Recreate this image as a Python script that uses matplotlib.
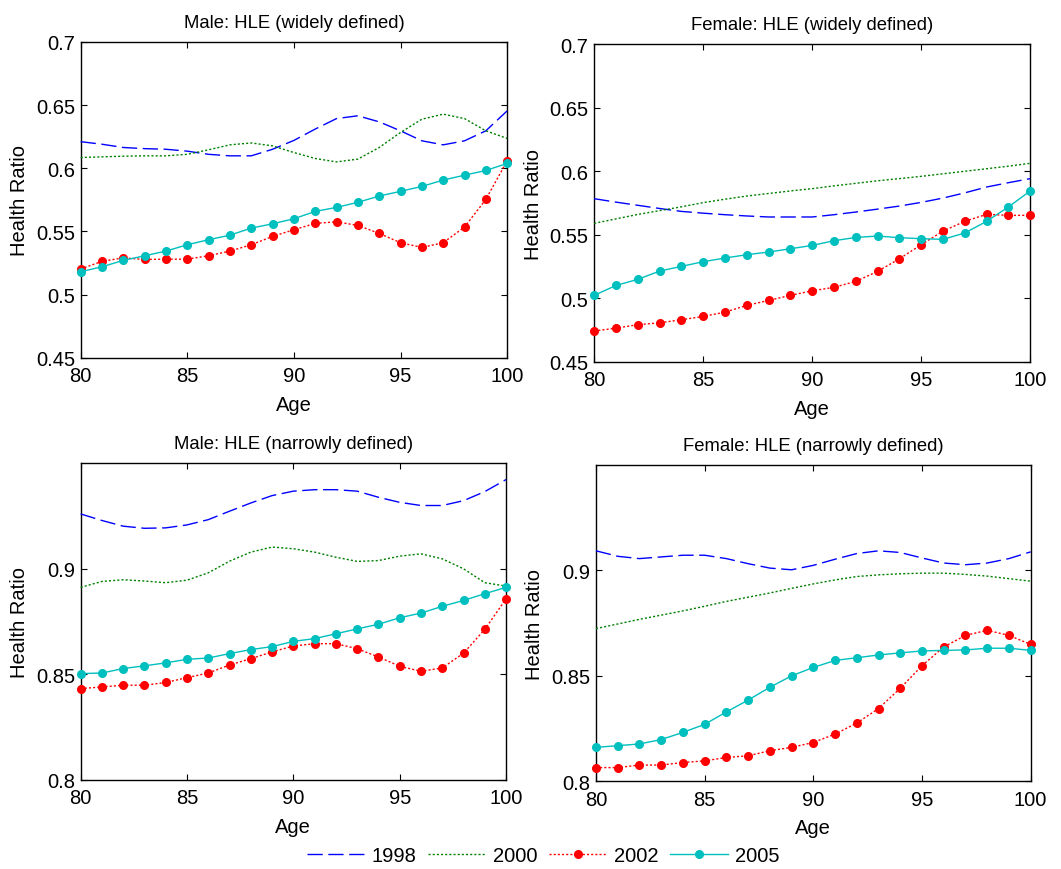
import matplotlib
matplotlib.use('Agg')
import matplotlib.pyplot as plt

plt.rcParams['font.family'] = ['Liberation Sans', 'DejaVu Sans']

# ages 80..100
ages = list(range(80, 101))
years = ['1998', '2000', '2002', '2005']

# Male, widely defined
male_wide_1998 = [0.621, 0.619, 0.6164, 0.6155, 0.615, 0.6135, 0.611, 0.6098, 0.6098, 0.615, 0.622,
                  0.631, 0.6393, 0.6415, 0.6367, 0.6296, 0.6217, 0.6185, 0.6217, 0.6296, 0.6454]
male_wide_2000 = [0.6085, 0.609, 0.6095, 0.6098, 0.6098, 0.611, 0.6146, 0.6185, 0.620, 0.6177, 0.6124,
                  0.6077, 0.605, 0.6072, 0.6164, 0.6283, 0.6388, 0.6428, 0.6393, 0.6296, 0.6236]
male_wide_2002 = [0.5202, 0.5263, 0.529, 0.5278, 0.528, 0.528, 0.5307, 0.5344, 0.5394, 0.546, 0.5513,
                  0.5563, 0.5576, 0.5547, 0.5484, 0.541, 0.5373, 0.541, 0.5534, 0.5753, 0.6059]
male_wide_2005 = [0.518, 0.522, 0.527, 0.5307, 0.5344, 0.5394, 0.5434, 0.547, 0.5526, 0.556, 0.5600,
                  0.5658, 0.569, 0.573, 0.578, 0.5817, 0.5856, 0.5906, 0.5945, 0.5982, 0.6038]

# Female, widely defined
female_wide_1998 = [0.5784, 0.5757, 0.5732, 0.5707, 0.5684, 0.567, 0.5658, 0.5648, 0.564, 0.564, 0.564,
                    0.5658, 0.5679, 0.5702, 0.5726, 0.5755, 0.5789, 0.583, 0.5876, 0.591, 0.5942]
female_wide_2000 = [0.559, 0.5625, 0.566, 0.569, 0.572, 0.5753, 0.578, 0.5805, 0.5825, 0.5845, 0.5863,
                    0.5885, 0.5905, 0.5925, 0.5942, 0.596, 0.598, 0.600, 0.602, 0.604, 0.6063]
female_wide_2002 = [0.4742, 0.4765, 0.4792, 0.4807, 0.4831, 0.4857, 0.4891, 0.4944, 0.4983, 0.5023, 0.5059,
                    0.5086, 0.5133, 0.5212, 0.5311, 0.5422, 0.5529, 0.5606, 0.5661, 0.5653, 0.5653]
female_wide_2005 = [0.5023, 0.5101, 0.5149, 0.5214, 0.5251, 0.5288, 0.5317, 0.5343, 0.5364, 0.539, 0.5416,
                    0.5453, 0.5479, 0.549, 0.5477, 0.5469, 0.5464, 0.5514, 0.5606, 0.5719, 0.5845]

# Male, narrowly defined
male_narrow_1998 = [0.926, 0.9229, 0.9202, 0.9192, 0.9194, 0.9208, 0.9233, 0.9273, 0.9312, 0.9347, 0.9368,
                    0.9375, 0.9375, 0.9368, 0.9339, 0.9315, 0.930, 0.930, 0.9323, 0.9366, 0.9423]
male_narrow_2000 = [0.8912, 0.894, 0.8948, 0.8942, 0.8934, 0.8946, 0.8981, 0.9036, 0.9079, 0.9103, 0.9095,
                    0.9079, 0.9055, 0.9035, 0.9039, 0.906, 0.9071, 0.9047, 0.900, 0.8934, 0.8918]
male_narrow_2002 = [0.8432, 0.844, 0.8448, 0.8448, 0.8461, 0.8484, 0.8506, 0.8544, 0.8574, 0.8606, 0.8634,
                    0.8645, 0.8645, 0.8621, 0.8582, 0.8538, 0.8514, 0.853, 0.860, 0.8713, 0.8858]
male_narrow_2005 = [0.8503, 0.8506, 0.8527, 0.854, 0.8554, 0.8571, 0.8577, 0.8598, 0.8617, 0.8631, 0.8656,
                    0.8669, 0.8692, 0.8715, 0.8737, 0.8768, 0.879, 0.8822, 0.885, 0.8882, 0.8912]

# Female, narrowly defined
female_narrow_1998 = [0.9093, 0.9067, 0.9056, 0.9064, 0.9072, 0.9072, 0.9056, 0.9032, 0.9011, 0.9003, 0.9024,
                      0.9053, 0.908, 0.9093, 0.9085, 0.9059, 0.9035, 0.9027, 0.9035, 0.9056, 0.9088]
female_narrow_2000 = [0.8724, 0.8746, 0.8768, 0.8788, 0.8808, 0.883, 0.8853, 0.8873, 0.8893, 0.8915, 0.8936,
                      0.8955, 0.8971, 0.8979, 0.8984, 0.8987, 0.8987, 0.8981, 0.8973, 0.8961, 0.8949]
female_narrow_2002 = [0.8065, 0.8065, 0.8077, 0.8077, 0.8089, 0.8097, 0.8113, 0.8121, 0.8145, 0.8161, 0.8184,
                      0.8224, 0.8276, 0.8345, 0.8441, 0.8548, 0.8637, 0.8692, 0.8716, 0.8692, 0.8649]
female_narrow_2005 = [0.8161, 0.8169, 0.8177, 0.8198, 0.8232, 0.827, 0.8329, 0.8385, 0.8446, 0.850, 0.854,
                      0.8573, 0.8586, 0.8599, 0.8609, 0.8618, 0.8621, 0.8623, 0.8631, 0.8631, 0.8621]

titles = ['Male: HLE (widely defined)', 'Female: HLE (widely defined)',
          'Male: HLE (narrowly defined)', 'Female: HLE (narrowly defined)']

panels = [
    [male_wide_1998, male_wide_2000, male_wide_2002, male_wide_2005],
    [female_wide_1998, female_wide_2000, female_wide_2002, female_wide_2005],
    [male_narrow_1998, male_narrow_2000, male_narrow_2002, male_narrow_2005],
    [female_narrow_1998, female_narrow_2000, female_narrow_2002, female_narrow_2005],
]

positions = [
    [0.076, 0.5877, 0.402, 0.363],
    [0.560, 0.583, 0.411, 0.365],
    [0.076, 0.1026, 0.401, 0.3637],
    [0.5617, 0.1008, 0.4097, 0.3636],
]

ylims = [(0.45, 0.7), (0.45, 0.7), (0.8, 0.95), (0.8, 0.95)]
yticks = [[0.45, 0.5, 0.55, 0.6, 0.65, 0.7], [0.45, 0.5, 0.55, 0.6, 0.65, 0.7],
          [0.8, 0.85, 0.9], [0.8, 0.85, 0.9]]

styles = [
    dict(color='#0000FF', linestyle=(0, (11, 4)), linewidth=1.0),
    dict(color='#008000', linestyle=(0, (1.5, 1.5)), linewidth=1.0),
    dict(color='#FF0000', linestyle=(0, (1.5, 1.5)), linewidth=1.0, marker='o', markersize=5.5),
    dict(color='#00BFBF', linestyle='-', linewidth=1.0, marker='o', markersize=5.5),
]

fig = plt.figure(figsize=(10.61, 8.70), dpi=100)

handles = []
for i in range(4):
    ax = fig.add_axes(positions[i])
    for series, st, yr in zip(panels[i], styles, years):
        line, = ax.plot(ages, series, label=yr, clip_on=False, zorder=3, **st)
        if i == 0:
            handles.append(line)
    ax.set_xlim(80, 100)
    ax.set_ylim(*ylims[i])
    ax.set_xticks([80, 85, 90, 95, 100])
    ax.set_yticks(yticks[i])
    ax.set_yticklabels(['%g' % v for v in yticks[i]])
    ax.tick_params(direction='in', top=True, right=True, length=4, labelsize=14.5, pad=4)
    ax.tick_params(axis='x', pad=6)
    ax.set_title(titles[i], fontsize=13.3, pad=11)
    ax.set_xlabel('Age', fontsize=14.5, labelpad=7)
    ax.set_ylabel('Health Ratio', fontsize=14.5, labelpad=5)
    for sp in ax.spines.values():
        sp.set_linewidth(1.0)

fig.legend(handles, years, loc='center', bbox_to_anchor=(0.512, 0.015), ncol=4, frameon=False,
           fontsize=14.5, handlelength=2.9, handletextpad=0.35, columnspacing=0.55)

plt.savefig('out.png', dpi=100)
